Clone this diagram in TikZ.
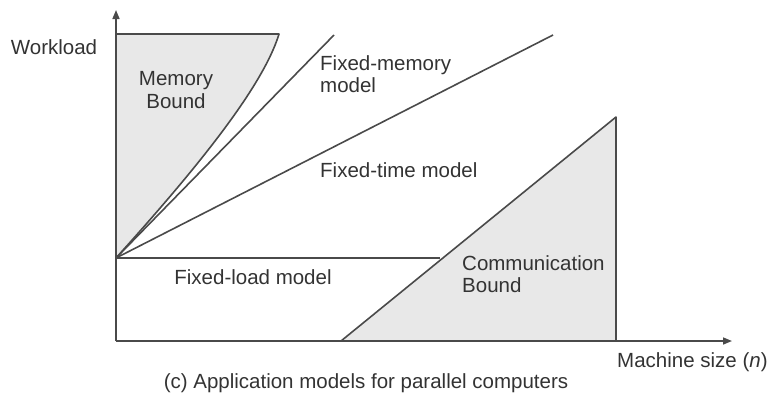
\documentclass[tikz,border=0pt]{standalone}
\usepackage{fontspec}
\setmainfont{Liberation Sans}
\usetikzlibrary{arrows.meta}
\definecolor{linec}{HTML}{4A4A4A}
\definecolor{fillc}{HTML}{E8E8E8}
\definecolor{textc}{HTML}{333333}
\tikzset{
  ln/.style={draw=linec, line width=1.6pt, line join=round},
  lbl/.style={text=textc, font=\fontsize{20.5}{23.5}\selectfont, inner sep=0pt, align=left},
  axis/.style={draw=linec, line width=1.6pt, -{Triangle[length=9pt,width=7pt]}}
}
\begin{document}
\begin{tikzpicture}[x=1pt,y=-1pt]
\useasboundingbox (0,0) rectangle (771,394);
% key points
\coordinate (O) at (116,258);
\coordinate (B) at (116,341);
\coordinate (Ytop) at (116,10);
\coordinate (Xend) at (732,341);
\coordinate (MBtl) at (116,34);
\coordinate (MBtr) at (279,34);
\coordinate (FM) at (334,35);
\coordinate (FT) at (553,35);
\coordinate (CBl) at (341,341);
\coordinate (CBt) at (616,117);
\coordinate (CBr) at (616,341);
\coordinate (FL) at (440,258);
% fills
\fill[fillc] (O) -- (MBtl) -- (MBtr) .. controls (262,90) and (188,178) .. (O) -- cycle;
\fill[fillc] (CBl) -- (CBt) -- (CBr) -- cycle;
% memory bound
\draw[ln] (O) -- (MBtl) -- (MBtr) .. controls (262,90) and (188,178) .. (O);
% models
\draw[ln] (O) -- (FM);
\draw[ln] (O) -- (FT);
\draw[ln] (O) -- (FL);
% communication bound
\draw[ln] (CBl) -- (CBt) -- (CBr);
% axes
\draw[axis] (B) -- (Ytop);
\draw[axis] (B) -- (Xend);
% labels
\node[lbl] (wl) at (54,47) {Workload};
\node[lbl, align=center] (mb) at (176,90) {Memory\\[-1pt]Bound};
\node[lbl, anchor=west] (fm) at (320,74) {Fixed-memory\\[-1pt]model};
\node[lbl, anchor=west] (ft) at (320,170) {Fixed-time model};
\node[lbl] (fl) at (253,277) {Fixed-load model};
\node[lbl, anchor=west] (cb) at (462,274) {Communication\\[-1pt]Bound};
\node[lbl, anchor=west] (ms) at (617,362) {Machine size (\textit{n})};
\node[lbl] (cap) at (366,383) {(c) Application models for parallel computers};
\end{tikzpicture}
\end{document}
